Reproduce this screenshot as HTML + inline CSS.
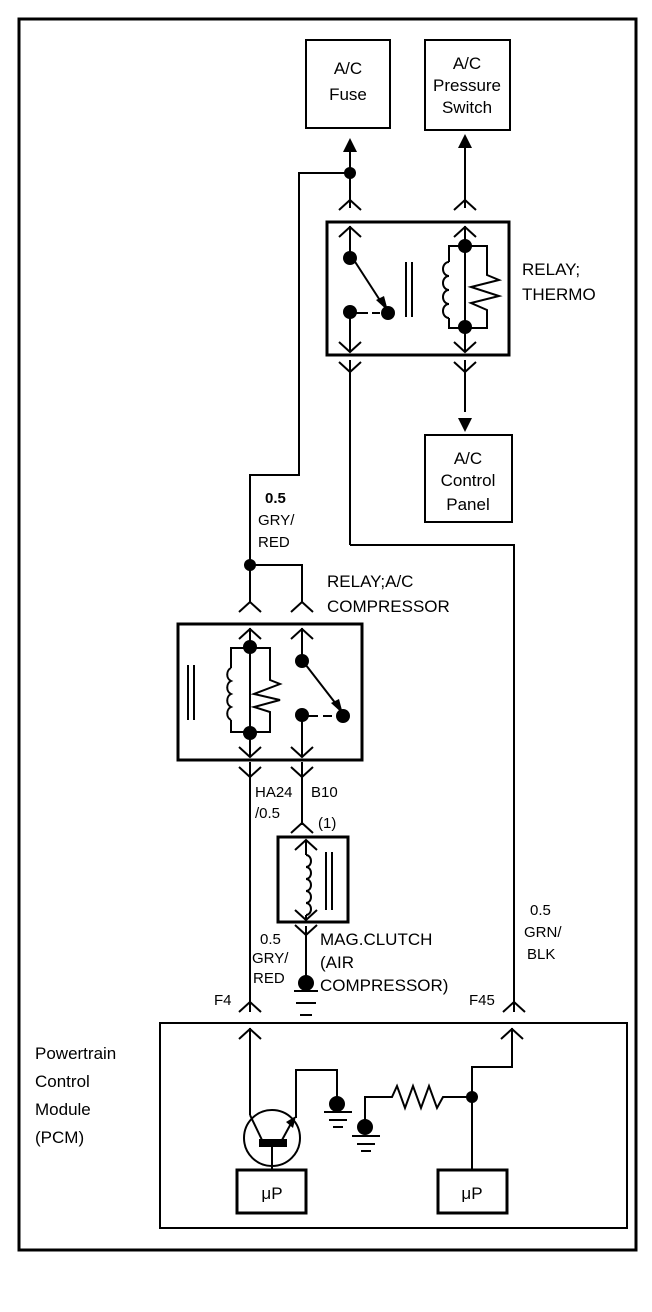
<!DOCTYPE html>
<html><head><meta charset="utf-8"><style>
html,body{margin:0;padding:0;background:#fff}
svg{display:block}
text{font-family:"Liberation Sans",Arial,sans-serif;font-size:17px;fill:#000}
</style></head><body>
<svg width="652" height="1312" viewBox="0 0 652 1312" xmlns="http://www.w3.org/2000/svg">
<defs>
<g id="chev"><polyline points="-11,10 0,0 11,10" fill="none" stroke="#000" stroke-width="2"/></g>
<g id="chevd"><polyline points="-11,-10 0,0 11,-10" fill="none" stroke="#000" stroke-width="2"/></g>
</defs>
<g fill="none" stroke="#000" stroke-width="2">
<rect x="19" y="19" width="617" height="1231" stroke-width="3"/>
<!-- top boxes -->
<rect x="306" y="40" width="84" height="88"/>
<rect x="425" y="40" width="85" height="90"/>
<rect x="425" y="435" width="87" height="87"/>
<!-- fuse wire -->
<line x1="350" y1="145" x2="350" y2="208"/>
<polyline points="350,173 299,173 299,475 250,475 250,565 302,565 302,602"/>
<line x1="250" y1="565" x2="250" y2="602"/>
<line x1="465" y1="145" x2="465" y2="208"/>
<!-- thermo relay -->
<rect x="327" y="222" width="182" height="133" stroke-width="3"/>
<line x1="350" y1="226" x2="350" y2="254"/>
<line x1="350" y1="312" x2="350" y2="352"/>
<line x1="350" y1="254" x2="383" y2="305"/>
<line x1="355" y1="313" x2="368" y2="313"/>
<line x1="372" y1="313" x2="380" y2="313"/>
<line x1="406" y1="262" x2="406" y2="317"/>
<line x1="412" y1="262" x2="412" y2="317"/>
<line x1="465" y1="226" x2="465" y2="352"/>
<polyline points="465,246 449,246 449,262"/>
<path d="M449,262 a6,7 0 0 0 0,14 a6,7 0 0 0 0,14 a6,7 0 0 0 0,14 a6,7 0 0 0 0,14"/>
<polyline points="449,318 449,328 487,328 487,310 471,303 499,296 471,287 499,280 487,275 487,246 465,246"/>
<line x1="350" y1="360" x2="350" y2="545"/>
<polyline points="350,545 514,545 514,1012"/>
<line x1="465" y1="360" x2="465" y2="412"/>
<!-- compressor relay -->
<rect x="178" y="624" width="184" height="136" stroke-width="3"/>
<line x1="250" y1="628" x2="250" y2="757"/>
<polyline points="250,648 231,648 231,668"/>
<path d="M231,668 a6,7 0 0 0 0,13 a6,7 0 0 0 0,13 a6,7 0 0 0 0,13 a6,7 0 0 0 0,13"/>
<polyline points="231,720 231,732 270,732 270,712 254,707 280,700 254,694 280,684 270,680 270,648 250,648"/>
<line x1="188" y1="665" x2="188" y2="720"/>
<line x1="194" y1="665" x2="194" y2="720"/>
<line x1="302" y1="628" x2="302" y2="660"/>
<line x1="302" y1="712" x2="302" y2="757"/>
<line x1="302" y1="660" x2="343" y2="713"/>
<line x1="307" y1="716" x2="318" y2="716"/>
<line x1="323" y1="716" x2="332" y2="716"/>
<!-- below compressor relay -->
<line x1="250" y1="762" x2="250" y2="1012"/>
<line x1="302" y1="762" x2="302" y2="825"/>
<!-- mag clutch -->
<rect x="278" y="837" width="70" height="85" stroke-width="3"/>
<line x1="306" y1="840" x2="306" y2="855"/>
<path d="M306,855 a5,6 0 0 1 0,12 a5,6 0 0 1 0,12 a5,6 0 0 1 0,12 a5,6 0 0 1 0,12 a5,6 0 0 1 0,12"/>
<line x1="306" y1="915" x2="306" y2="920"/>
<line x1="326" y1="852" x2="326" y2="910"/>
<line x1="332" y1="852" x2="332" y2="910"/>
<line x1="306" y1="926" x2="306" y2="983"/>
<line x1="294" y1="991" x2="318" y2="991"/>
<line x1="296" y1="1003" x2="316" y2="1003"/>
<line x1="300" y1="1015" x2="312" y2="1015"/>
<!-- PCM -->
<rect x="160" y="1023" width="467" height="205"/>
<line x1="250" y1="1028" x2="250" y2="1115"/>
<circle cx="272" cy="1138" r="28"/>
<line x1="250" y1="1115" x2="262" y2="1140"/>
<line x1="282" y1="1140" x2="294" y2="1118"/>
<polyline points="296,1118 296,1070 337,1070 337,1100"/>
<line x1="324" y1="1112" x2="352" y2="1112"/>
<line x1="329" y1="1120" x2="347" y2="1120"/>
<line x1="333" y1="1127" x2="343" y2="1127"/>
<polyline points="365,1124 365,1097 392,1097 397,1086 405,1108 413,1086 421,1108 429,1086 437,1108 443,1097 472,1097"/>
<line x1="352" y1="1136" x2="380" y2="1136"/>
<line x1="357" y1="1144" x2="375" y2="1144"/>
<line x1="361" y1="1151" x2="371" y2="1151"/>
<polyline points="472,1170 472,1067 512,1067 512,1028"/>
<line x1="272" y1="1147" x2="272" y2="1170"/>
<rect x="237" y="1170" width="69" height="43" stroke-width="3"/>
<rect x="438" y="1170" width="69" height="43" stroke-width="3"/>
</g>
<!-- filled parts -->
<g fill="#000" stroke="none">
<polygon points="350,138 343,152 357,152"/>
<polygon points="465,134 458,148 472,148"/>
<polygon points="465,432 458,418 472,418"/>
<circle cx="350" cy="173" r="6"/>
<circle cx="350" cy="258" r="7"/>
<circle cx="350" cy="312" r="7"/>
<circle cx="388" cy="313" r="7"/>
<polygon points="388,311 376,300 384,296"/>
<circle cx="465" cy="246" r="7"/>
<circle cx="465" cy="327" r="7"/>
<circle cx="250" cy="565" r="6"/>
<circle cx="250" cy="647" r="7"/>
<circle cx="250" cy="733" r="7"/>
<circle cx="302" cy="661" r="7"/>
<circle cx="302" cy="715" r="7"/>
<circle cx="343" cy="716" r="7"/>
<polygon points="343,714 331,703 339,699"/>
<circle cx="306" cy="983" r="8"/>
<circle cx="337" cy="1104" r="8"/>
<circle cx="365" cy="1127" r="8"/>
<circle cx="472" cy="1097" r="6"/>
<rect x="259" y="1139" width="28" height="8"/>
<polygon points="296,1116 286,1122 293,1128"/>
</g>
<!-- chevrons -->
<use href="#chev" x="350" y="200"/><use href="#chev" x="465" y="200"/>
<use href="#chev" x="350" y="227"/><use href="#chev" x="465" y="227"/>
<use href="#chevd" x="350" y="352"/><use href="#chevd" x="465" y="352"/>
<use href="#chevd" x="350" y="372"/><use href="#chevd" x="465" y="372"/>
<use href="#chev" x="250" y="602"/><use href="#chev" x="302" y="602"/>
<use href="#chev" x="250" y="629"/><use href="#chev" x="302" y="629"/>
<use href="#chevd" x="250" y="757"/><use href="#chevd" x="302" y="757"/>
<use href="#chevd" x="250" y="777"/><use href="#chevd" x="302" y="777"/>
<use href="#chev" x="302" y="823"/><use href="#chev" x="306" y="840"/>
<use href="#chevd" x="306" y="920"/><use href="#chevd" x="306" y="935"/>
<use href="#chev" x="250" y="1002"/><use href="#chev" x="514" y="1002"/>
<use href="#chev" x="250" y="1029"/><use href="#chev" x="512" y="1029"/>
<!-- text -->
<text x="348" y="74" text-anchor="middle">A/C</text>
<text x="348" y="100" text-anchor="middle">Fuse</text>
<text x="467" y="69" text-anchor="middle">A/C</text>
<text x="467" y="91" text-anchor="middle">Pressure</text>
<text x="467" y="113" text-anchor="middle">Switch</text>
<text x="522" y="275">RELAY;</text>
<text x="522" y="300">THERMO</text>
<text x="468" y="464" text-anchor="middle">A/C</text>
<text x="468" y="486" text-anchor="middle">Control</text>
<text x="468" y="510" text-anchor="middle">Panel</text>
<text x="265" y="503" font-weight="bold" style="font-size:15px">0.5</text>
<text x="258" y="525" style="font-size:15px">GRY/</text>
<text x="258" y="547" style="font-size:15px">RED</text>
<text x="327" y="587">RELAY;A/C</text>
<text x="327" y="612">COMPRESSOR</text>
<text x="255" y="797" style="font-size:15px">HA24</text>
<text x="255" y="818" style="font-size:15px">/0.5</text>
<text x="311" y="797" style="font-size:15px">B10</text>
<text x="318" y="828" style="font-size:15px">(1)</text>
<text x="320" y="945">MAG.CLUTCH</text>
<text x="320" y="968">(AIR</text>
<text x="320" y="991">COMPRESSOR)</text>
<text x="260" y="944" style="font-size:15px">0.5</text>
<text x="252" y="963" style="font-size:15px">GRY/</text>
<text x="253" y="983" style="font-size:15px">RED</text>
<text x="214" y="1005" style="font-size:15px">F4</text>
<text x="469" y="1005" style="font-size:15px">F45</text>
<text x="530" y="915" style="font-size:15px">0.5</text>
<text x="524" y="937" style="font-size:15px">GRN/</text>
<text x="527" y="959" style="font-size:15px">BLK</text>
<text x="35" y="1059">Powertrain</text>
<text x="35" y="1087">Control</text>
<text x="35" y="1115">Module</text>
<text x="35" y="1143">(PCM)</text>
<text x="272" y="1199" text-anchor="middle">μP</text>
<text x="472" y="1199" text-anchor="middle">μP</text>
</svg>
</body></html>
